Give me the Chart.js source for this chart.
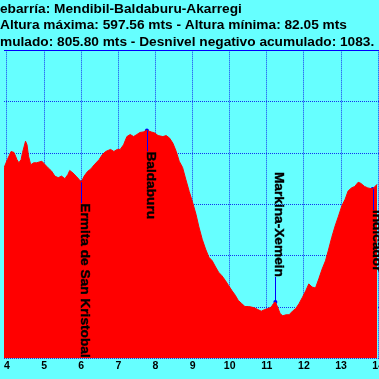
<!DOCTYPE html>
<html><head><meta charset="utf-8">
<script src="https://cdn.jsdelivr.net/npm/chart.js@4"></script>
<style>
html,body{margin:0;padding:0;background:#66ffff;overflow:hidden;width:379px;height:379px}
#c{position:absolute;left:0;top:0}
</style></head><body>
<canvas id="c" width="475" height="379"></canvas>
<script>
const titleLines = [
  "ebarría: Mendibil-Baldaburu-Akarregi",
  "Altura máxima: 597.56 mts - Altura mínima: 82.05 mts",
  "mulado: 805.80 mts - Desnivel negativo acumulado: 1083."
];
const distanceKm = [3.92,4.01,4.11,4.19,4.27,4.32,4.38,4.42,4.50,4.54,4.58,4.64,4.72,4.80,4.94,5.03,5.11,5.20,5.29,5.38,5.47,5.56,5.64,5.69,5.78,5.86,5.95,6.00,6.08,6.17,6.26,6.35,6.48,6.57,6.66,6.79,6.88,6.97,7.05,7.14,7.23,7.32,7.41,7.50,7.58,7.67,7.77,7.89,7.98,8.07,8.20,8.29,8.38,8.47,8.56,8.64,8.73,8.82,8.91,9.00,9.09,9.17,9.26,9.35,9.44,9.53,9.62,9.70,9.79,9.88,9.97,10.06,10.15,10.23,10.32,10.41,10.50,10.59,10.68,10.76,10.85,10.94,11.03,11.12,11.18,11.23,11.29,11.36,11.43,11.52,11.60,11.69,11.78,11.87,11.96,12.05,12.13,12.22,12.31,12.40,12.49,12.58,12.66,12.75,12.84,12.93,13.02,13.11,13.19,13.28,13.37,13.46,13.53,13.63,13.72,13.85,13.97];
const elevationM = [371,387,403,401,387,381,387,401,423,416,394,377,381,381,384,377,371,365,355,352,355,350,358,366,361,355,348,343,355,364,369,377,387,397,403,407,403,407,407,416,432,436,432,436,440,441,444,441,439,434,432,434,429,419,403,384,372,348,325,304,281,256,232,213,197,190,178,168,161,152,142,132,123,113,107,101,101,100,98,95,92,95,97,100,107,110,100,87,83,85,85,92,97,107,119,132,145,139,137,155,174,190,211,236,258,277,297,310,326,332,335,343,341,335,332,330,339];
const waypointNames = ["Ermita de San Kristobal","Baldaburu","Markina-Xemein","Indicador"];
const waypointKm = [6.00, 7.77, 11.23, 13.85];
const waypointElev = [343, 444, 110, 330];
const xMin = 3.92, xMax = 16.5, xStep = 1;
const yMin = 0, yMax = 600, yStep = 100;

const FONT = "'Liberation Sans', Arial, sans-serif";
const gridColor = 'rgba(0,0,235,0.8)';

const waypointPlugin = {
  id: 'waypointLabels',
  afterDatasetsDraw(chart) {
    const {ctx, chartArea, scales} = chart;
    const xs = scales.x, ys = scales.y;
    ctx.save();
    ctx.font = "bold 13.7px " + FONT;
    waypointNames.forEach((name, i) => {
      const px = xs.getPixelForValue(waypointKm[i]);
      const py = ys.getPixelForValue(waypointElev[i]);
      const w = ctx.measureText(name).width;
      let start, lineEnd;
      if (py + 21 + w <= chartArea.bottom) { start = py + 21; lineEnd = start; }
      else { start = py - 25 - w; lineEnd = py - 25; }
      ctx.strokeStyle = '#0000ff';
      ctx.lineWidth = 1;
      ctx.beginPath();
      ctx.moveTo(Math.round(px) + 0.5, py);
      ctx.lineTo(Math.round(px) + 0.5, lineEnd);
      ctx.stroke();
      ctx.save();
      ctx.translate(px, start);
      ctx.rotate(Math.PI / 2);
      ctx.fillStyle = '#000';
      ctx.strokeStyle = '#000';
      ctx.lineWidth = 0.4;
      ctx.textAlign = 'left';
      ctx.textBaseline = 'alphabetic';
      ctx.fillText(name, 0, 0);
      ctx.strokeText(name, 0, 0);
      ctx.restore();
    });
    ctx.restore();
  }
};

new Chart(document.getElementById('c'), {
  type: 'line',
  data: {
    datasets: [
      {
        data: distanceKm.map((d, i) => ({x: d, y: elevationM[i]})),
        borderColor: '#ff0000', backgroundColor: '#ff0000',
        borderWidth: 1, fill: 'origin', pointRadius: 0, tension: 0
      },
      {
        data: waypointKm.map((d, i) => ({x: d, y: waypointElev[i]})),
        showLine: false, pointRadius: 2, pointBorderWidth: 0,
        pointBackgroundColor: '#0000ee', borderColor: '#0000ee'
      }
    ]
  },
  options: {
    responsive: false, animation: false, devicePixelRatio: 1,
    layout: {padding: {left: 0, right: 0, top: 0, bottom: 6}},
    plugins: {
      legend: {display: false}, tooltip: {enabled: false},
      title: {
        display: true, text: titleLines, align: 'start', color: '#000',
        font: {family: FONT, size: 13.7, weight: 'bold', lineHeight: 1.2},
        padding: {top: 1, bottom: 0}
      }
    },
    scales: {
      x: {
        type: 'linear', min: xMin, max: xMax, z: 1,
        ticks: {stepSize: xStep, autoSkip: false, includeBounds: false, padding: 1, maxRotation: 0,
                color: '#000', font: {family: FONT, size: 10.5, weight: 'bold'}},
        grid: {color: gridColor, drawTicks: false, lineWidth: 1},
        border: {display: false, dash: [1, 1]}
      },
      y: {
        min: yMin, max: yMax, z: 1,
        ticks: {display: false, stepSize: yStep},
        grid: {drawTicks: false, lineWidth: 1,
               color: c => (c.tick && c.tick.value === yMax) ? '#0000ff' : gridColor},
        border: {display: false,
                 dash: c => (c.tick && c.tick.value === yMax) ? [] : [1, 1]}
      }
    }
  },
  plugins: [waypointPlugin]
});
</script>
</body></html>
